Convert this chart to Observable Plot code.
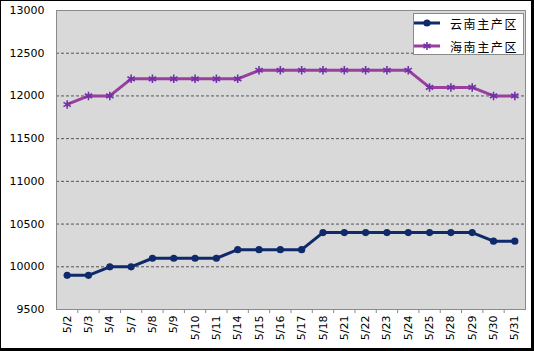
<!DOCTYPE html>
<html><head><meta charset="utf-8">
<script src="https://cdn.jsdelivr.net/npm/d3@7"></script>
<script src="https://cdn.jsdelivr.net/npm/@observablehq/plot@0.6"></script>
<style>
body{margin:0;background:#fff;}
#wrap{position:relative;width:534px;height:351px;overflow:hidden;background:#fff;}
#wrap svg{position:absolute;left:0;top:0;}
#frame{position:absolute;left:0;top:0;width:534px;height:351px;box-sizing:border-box;border-style:solid;border-color:#000;border-width:1px 3px 3px 1px;pointer-events:none;}
#legend{position:absolute;left:413px;top:13px;width:111px;height:42px;box-sizing:border-box;background:#fff;border:1px solid #8a8a8a;font-family:"Noto Sans CJK SC",sans-serif;font-size:12px;color:#000;}
.row{position:absolute;left:0;height:16px;width:110px;}
.row svg{position:absolute;left:9px;top:2px;}
.row span{position:absolute;left:36px;top:-1px;letter-spacing:1.6px;line-height:16px;}
</style>
</head><body>
<div id="wrap"></div>
<script>
const dates = ["5/2","5/3","5/4","5/7","5/8","5/9","5/10","5/11","5/14","5/15","5/16","5/17","5/18","5/21","5/22","5/23","5/24","5/25","5/28","5/29","5/30","5/31"];
const yunnan = [9900,9900,10000,10000,10100,10100,10100,10100,10200,10200,10200,10200,10400,10400,10400,10400,10400,10400,10400,10400,10300,10300];
const hainan = [11900,12000,12000,12200,12200,12200,12200,12200,12200,12300,12300,12300,12300,12300,12300,12300,12300,12100,12100,12100,12000,12000];
const yTicks = [9500,10000,10500,11000,11500,12000,12500,13000];
const seriesNames = ["云南主产区","海南主产区"];
const colors = {yunnanLine:"#0e2a6a", hainanLine:"#993f9e", hainanMark:"#7231a8"};

const W = 534, H = 351, mL = 56, mR = 9, mT = 10, mB = 42;
const step = (W - mL - mR) / dates.length;

const chart = Plot.plot({
  width: W, height: H,
  marginLeft: mL, marginRight: mR, marginTop: mT, marginBottom: mB,
  style: {fontFamily: "DejaVu Sans", fontSize: "11px", color: "#000", background: "transparent"},
  x: {type: "point", domain: dates, padding: 0.5, round: false, axis: null},
  y: {domain: [9500, 13000], axis: null},
  marks: [
    Plot.frame({fill: "#d9d9d9"}),
    Plot.ruleY(yTicks.slice(1, -1), {stroke: "#555", strokeDasharray: "3,2", strokeWidth: 1}),
    Plot.frame({stroke: "#8a8a8a"}),
    Plot.axisY({ticks: yTicks, tickSize: 0, tickPadding: 12, tickFormat: d => String(d), label: null}),
    Plot.axisX({ticks: dates.slice(0, -1), tickSize: 4, dx: step / 2, tickFormat: () => "", label: null, stroke: "#8a8a8a"}),
    Plot.axisX({ticks: dates, tickSize: 0, tickRotate: -90, tickPadding: 6, label: null}),
    Plot.line(dates, {x: dates, y: yunnan, stroke: colors.yunnanLine, strokeWidth: 3}),
    Plot.dot(dates, {x: dates, y: yunnan, r: 3.6, fill: colors.yunnanLine}),
    Plot.line(dates, {x: dates, y: hainan, stroke: colors.hainanLine, strokeWidth: 3}),
    Plot.dot(dates, {x: dates, y: hainan, r: 4, symbol: "asterisk", stroke: colors.hainanMark, strokeWidth: 1.6})
  ]
});
const wrap = document.getElementById("wrap");
wrap.appendChild(chart);

const legend = document.createElement("div");
legend.id = "legend";
legend.innerHTML = `
<div class="row" style="top:3px"><svg width="26" height="12"><line x1="0" y1="6" x2="26" y2="6" stroke="${colors.yunnanLine}" stroke-width="3"/><circle cx="13" cy="6" r="3.6" fill="${colors.yunnanLine}"/></svg><span>${seriesNames[0]}</span></div>
<div class="row" style="top:26px"><svg width="26" height="12"><line x1="0" y1="6" x2="26" y2="6" stroke="${colors.hainanLine}" stroke-width="3"/><g stroke="${colors.hainanMark}" stroke-width="1.6"><line x1="13" y1="2" x2="13" y2="10"/><line x1="9.5" y1="4" x2="16.5" y2="8"/><line x1="9.5" y1="8" x2="16.5" y2="4"/></g></svg><span>${seriesNames[1]}</span></div>`;
wrap.appendChild(legend);

const frame = document.createElement("div");
frame.id = "frame";
wrap.appendChild(frame);
</script>
</body></html>
